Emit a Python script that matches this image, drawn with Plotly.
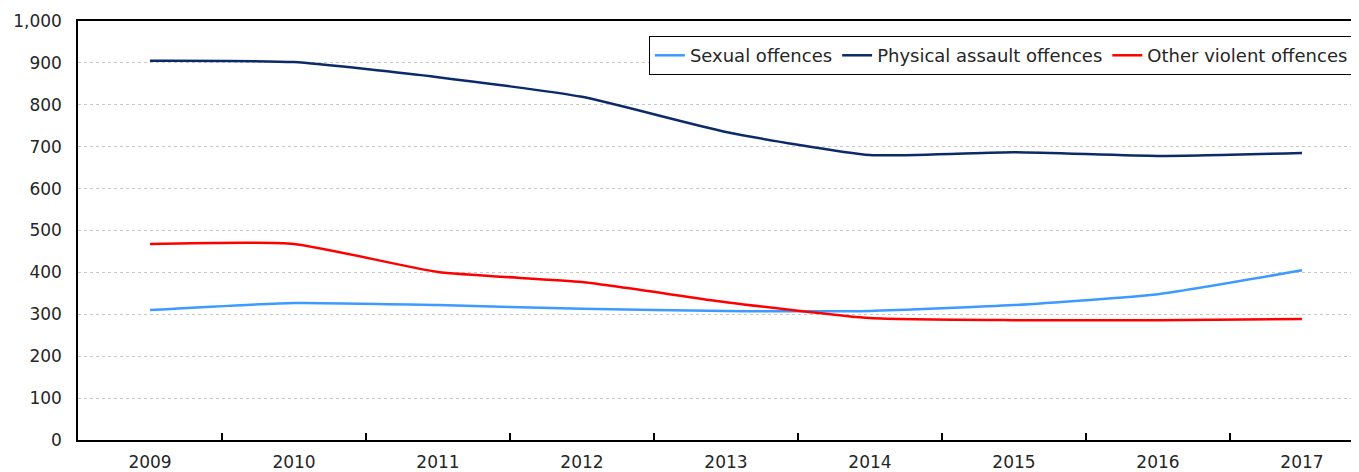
import plotly.graph_objects as go

years = ["2009", "2010", "2011", "2012", "2013", "2014", "2015", "2016", "2017"]
sexual = [310, 327, 322, 313, 308, 308, 322, 348, 405]
physical = [905, 902, 866, 819, 735, 680, 687, 678, 685]
other = [468, 468, 401, 377, 329, 291, 286, 286, 289]

series = [
    ("Sexual offences", sexual, "#3d9bff"),
    ("Physical assault offences", physical, "#0c2a6a"),
    ("Other violent offences", other, "#ff0000"),
]

font = dict(family="DejaVu Sans, Verdana, sans-serif", size=17, color="#262626")

fig = go.Figure()
for name, vals, color in series:
    fig.add_trace(go.Scatter(
        x=years,
        y=vals,
        name=name,
        mode="lines",
        line=dict(color=color, width=2.5, shape="spline", smoothing=0.5),
    ))

# page body has an 8px margin, so the figure is sized/offset to compensate
fig.update_layout(
    width=1351,
    height=464,
    autosize=False,
    margin=dict(l=70, r=0, t=13, b=32, autoexpand=False),
    paper_bgcolor="white",
    plot_bgcolor="white",
    font=font,
    showlegend=True,
    legend=dict(
        orientation="h",
        x=0.996,
        xanchor="right",
        y=0.964,
        yanchor="top",
        bgcolor="white",
        bordercolor="black",
        borderwidth=1,
        font=dict(family=font["family"], size=18, color="#262626"),
        itemwidth=30,
        tracegroupgap=0,
    ),
)

# category axis, ticks between years; right edge is clipped like the source
fig.update_xaxes(
    type="category",
    range=[-0.5, 8.396],
    automargin=False,
    tickson="boundaries",
    ticks="inside",
    ticklen=7,
    tickwidth=1.5,
    tickcolor="black",
    showline=True,
    linecolor="black",
    linewidth=1.5,
    mirror=True,
    showgrid=False,
    ticklabelstandoff=6,
)
fig.update_yaxes(
    range=[0, 1000],
    dtick=100,
    tickformat=",",
    automargin=False,
    showline=True,
    linecolor="black",
    linewidth=1.5,
    showgrid=True,
    gridcolor="#c8c8c8",
    gridwidth=1,
    griddash="dot",
    zeroline=False,
    ticks="",
    ticklabelstandoff=11,
)

fig.write_html("out.html")
